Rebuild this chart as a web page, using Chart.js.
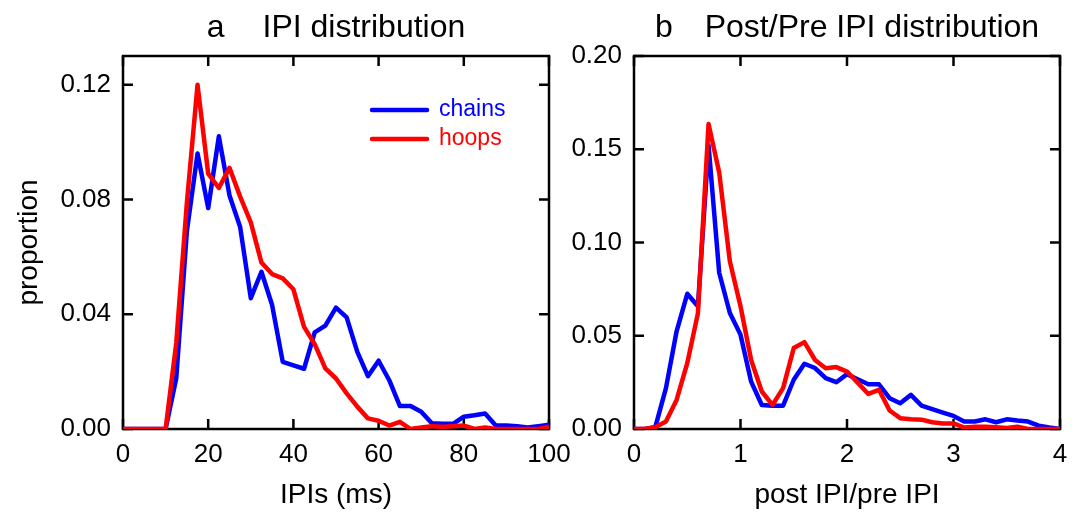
<!DOCTYPE html>
<html>
<head>
<meta charset="utf-8">
<title>IPI distributions</title>
<script src="https://cdn.jsdelivr.net/npm/chart.js@4.4.1/dist/chart.umd.min.js"></script>
<style>
  html, body { margin: 0; padding: 0; background: #fff; }
  #wrap { position: relative; width: 1079px; height: 515px; overflow: hidden; }
  canvas { position: absolute; top: 0; }
  #ipiChart { left: 0; }
  #ratioChart { left: 560px; }
</style>
</head>
<body>
<div id="wrap">
  <canvas id="ipiChart" width="580" height="515"></canvas>
  <canvas id="ratioChart" width="519" height="515"></canvas>
</div>
<script>
// panel a: inter-pulse intervals (ms)
const ipiBins = [0, 2.5, 5, 7.5, 10, 12.5, 15, 17.5, 20, 22.5, 25, 27.5, 30, 32.5, 35, 37.5, 40,
  42.5, 45, 47.5, 50, 52.5, 55, 57.5, 60, 62.5, 65, 67.5, 70, 72.5, 75, 77.5, 80, 82.5, 85, 87.5,
  90, 92.5, 95, 97.5, 100];
const ipiChains = [0, 0, 0, 0, 0, 0.0177, 0.069, 0.096, 0.077, 0.102,
  0.0814, 0.0704, 0.0456, 0.0548, 0.0432, 0.0234, 0.0222, 0.021, 0.0337, 0.036,
  0.0423, 0.0389, 0.0269, 0.0184, 0.0238, 0.017, 0.008, 0.008, 0.006, 0.002,
  0.0018, 0.0018, 0.0043, 0.0048, 0.0054, 0.0012, 0.0012, 0.001, 0.0005, 0.001, 0.0015];
const ipiHoops = [0, 0, 0, 0, 0, 0.030, 0.079, 0.120, 0.089, 0.084,
  0.091, 0.081, 0.072, 0.058, 0.054, 0.0525, 0.0487, 0.0356, 0.0296, 0.0211,
  0.0176, 0.0124, 0.0078, 0.0037, 0.0029, 0.0012, 0.0025, 0, 0.0005, 0.001,
  0.0008, 0.001, 0.0012, 0, 0.0005, 0, 0, 0, 0, 0, 0.0008];

// panel b: post IPI / pre IPI ratio
const ratioBins = [0, 0.1, 0.2, 0.3, 0.4, 0.5, 0.6, 0.7, 0.8, 0.9, 1.0, 1.1, 1.2, 1.3, 1.4, 1.5,
  1.6, 1.7, 1.8, 1.9, 2.0, 2.1, 2.2, 2.3, 2.4, 2.5, 2.6, 2.7, 2.8, 2.9, 3.0, 3.1, 3.2, 3.3, 3.4,
  3.5, 3.6, 3.7, 3.8, 3.9, 4.0];
const ratioChains = [0, 0, 0.001, 0.0219, 0.0524, 0.0725, 0.0658, 0.152, 0.0838, 0.0622,
  0.0506, 0.0254, 0.0129, 0.0125, 0.0125, 0.0264, 0.035, 0.0327, 0.0273, 0.0251,
  0.0294, 0.0267, 0.024, 0.024, 0.0165, 0.0138, 0.0183, 0.0125, 0.0106, 0.0088,
  0.007, 0.004, 0.004, 0.0052, 0.0036, 0.0052, 0.0045, 0.004, 0.0018, 0.0008, 0];
const ratioHoops = [0, 0, 0.001, 0.004, 0.0156, 0.0353, 0.062, 0.1635, 0.1375, 0.09,
  0.0658, 0.037, 0.0201, 0.0129, 0.0219, 0.0434, 0.0466, 0.037, 0.0326, 0.0332,
  0.0308, 0.0249, 0.0188, 0.021, 0.0099, 0.0058, 0.0052, 0.005, 0.0036, 0.003,
  0.003, 0.0008, 0.0012, 0.0012, 0.001, 0.0005, 0.0012, 0, 0, 0, 0];

const seriesNames = ["chains", "hoops"];
const seriesColors = ["#0000ff", "#ff0000"];

const FONT = "'Liberation Sans', Arial, sans-serif";
Chart.defaults.font.family = FONT;
Chart.defaults.color = "#000";

function toPoints(xs, ys) {
  return xs.map((x, i) => ({ x: x, y: ys[i] }));
}

// box around the plot with inward tick marks on all four sides,
// the panel heading and an optional line legend
const framePlugin = {
  id: "frame",
  beforeDatasetsDraw(chart, args, opts) {
    const { ctx, chartArea: a, scales: { x, y } } = chart;
    ctx.save();
    ctx.strokeStyle = "#000";
    ctx.lineWidth = 2.5;
    ctx.strokeRect(a.left, a.top, a.right - a.left, a.bottom - a.top);
    ctx.beginPath();
    x.ticks.forEach((t) => {
      const px = x.getPixelForValue(t.value);
      ctx.moveTo(px, a.bottom);
      ctx.lineTo(px, a.bottom - 10);
      ctx.moveTo(px, a.top);
      ctx.lineTo(px, a.top + 10);
    });
    y.ticks.forEach((t) => {
      const py = y.getPixelForValue(t.value);
      ctx.moveTo(a.left, py);
      ctx.lineTo(a.left + 10, py);
      ctx.moveTo(a.right, py);
      ctx.lineTo(a.right - 10, py);
    });
    ctx.stroke();
    ctx.restore();
  },
  afterDraw(chart, args, opts) {
    const { ctx, chartArea: a } = chart;
    ctx.save();
    ctx.font = "32px " + FONT;
    ctx.fillStyle = "#000";
    ctx.textBaseline = "alphabetic";
    ctx.textAlign = "left";
    const w1 = ctx.measureText(opts.letter).width;
    const w2 = ctx.measureText(opts.heading).width;
    const start = (a.left + a.right) / 2 - (w1 + opts.gap + w2) / 2;
    ctx.fillText(opts.letter, start, 37);
    ctx.fillText(opts.heading, start + w1 + opts.gap, 37);

    if (opts.legend) {
      ctx.lineWidth = 4.5;
      ctx.lineCap = "round";
      ctx.font = "23px " + FONT;
      ctx.textBaseline = "middle";
      seriesNames.forEach((name, i) => {
        const ly = 110 + i * 29;
        ctx.strokeStyle = seriesColors[i];
        ctx.beginPath();
        ctx.moveTo(372, ly);
        ctx.lineTo(427, ly);
        ctx.stroke();
        ctx.fillStyle = seriesColors[i];
        ctx.fillText(name, 439, ly);
      });
    }
    ctx.restore();
  }
};

function makeChart(canvasId, cfg) {
  const datasets = [cfg.chains, cfg.hoops].map((ys, i) => ({
    label: seriesNames[i],
    data: toPoints(cfg.bins, ys),
    borderColor: seriesColors[i],
    borderWidth: 4.5,
    borderJoinStyle: "round",
    pointRadius: 0,
    tension: 0,
    fill: false,
    order: 1 - i // hoops on top
  }));

  return new Chart(document.getElementById(canvasId), {
    type: "line",
    data: { datasets: datasets },
    plugins: [framePlugin],
    options: {
      responsive: false,
      animation: false,
      layout: { padding: cfg.padding },
      plugins: {
        legend: { display: false },
        tooltip: { enabled: false },
        frame: { letter: cfg.letter, heading: cfg.heading, gap: cfg.gap, legend: cfg.legend }
      },
      scales: {
        x: {
          type: "linear",
          min: cfg.xMin,
          max: cfg.xMax,
          grid: { display: false, drawTicks: false },
          border: { display: false },
          ticks: { stepSize: cfg.xStep, font: { size: 26 }, padding: 10, maxRotation: 0 },
          title: { display: true, text: cfg.xTitle, font: { size: 28 }, padding: { top: 0, bottom: 3 } },
          afterFit(scale) {
            scale.height = 86;
            scale.paddingLeft = 0;
            scale.paddingRight = 0;
          }
        },
        y: {
          type: "linear",
          min: 0,
          max: cfg.yMax,
          grid: { display: false, drawTicks: false },
          border: { display: false },
          ticks: {
            stepSize: cfg.yStep,
            includeBounds: false,
            font: { size: 26 },
            padding: 12,
            callback: (v) => v.toFixed(2)
          },
          title: { display: !!cfg.yTitle, text: cfg.yTitle || "", font: { size: 28 }, padding: { top: 12, bottom: 0 } },
          afterFit(scale) {
            scale.width = cfg.yWidth;
            scale.paddingTop = 0;
            scale.paddingBottom = 0;
          }
        }
      }
    }
  });
}

makeChart("ipiChart", {
  bins: ipiBins, chains: ipiChains, hoops: ipiHoops,
  letter: "a", heading: "IPI distribution", gap: 38, legend: true,
  xMin: 0, xMax: 100, xStep: 20, xTitle: "IPIs (ms)",
  yMax: 0.13, yStep: 0.04, yTitle: "proportion",
  yWidth: 123,
  padding: { left: 0, right: 31, top: 56, bottom: 0 }
});

makeChart("ratioChart", {
  bins: ratioBins, chains: ratioChains, hoops: ratioHoops,
  letter: "b", heading: "Post/Pre IPI distribution", gap: 32, legend: false,
  xMin: 0, xMax: 4, xStep: 1, xTitle: "post IPI/pre IPI",
  yMax: 0.2, yStep: 0.05, yTitle: null,
  yWidth: 74,
  padding: { left: 0, right: 19, top: 56, bottom: 0 }
});
</script>
</body>
</html>
